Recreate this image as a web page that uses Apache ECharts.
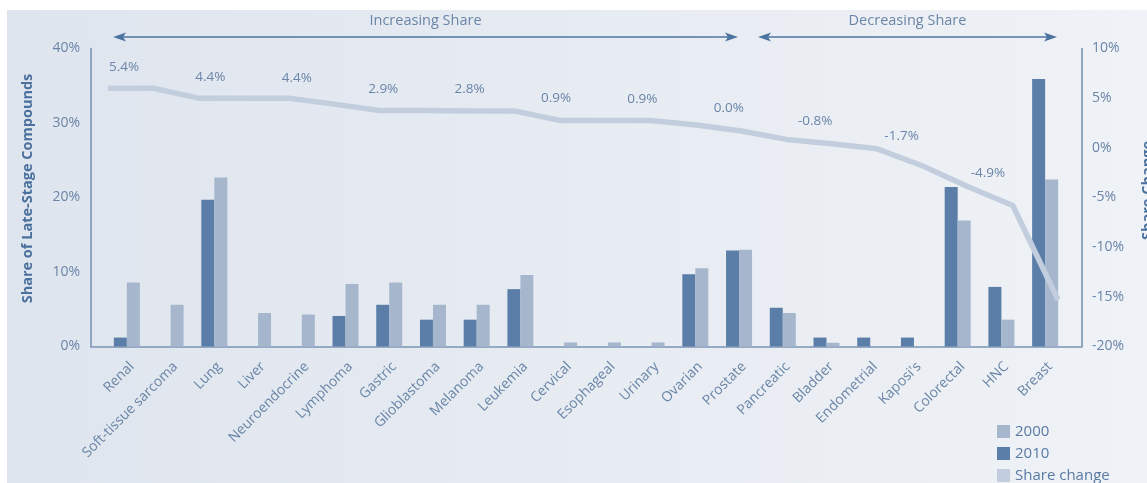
<!DOCTYPE html>
<html><head><meta charset="utf-8">
<script src="https://cdn.jsdelivr.net/npm/echarts@6/dist/echarts.min.js"></script>
<style>
html,body{margin:0;padding:0;background:#fff;}
#wrap{position:relative;width:1147px;height:483px;overflow:hidden;}
#bg{position:absolute;left:7px;top:10px;right:0;bottom:0;background:linear-gradient(90deg,#dfe5ee 0%,#e6ebf2 45%,#eff2f6 100%);}
#c{position:absolute;left:0;top:0;width:1147px;height:483px;}
</style>
</head><body>
<div id="wrap"><div id="bg"></div><div id="c"></div></div>
<script>
// ---- data ----
const categories = ['Renal','Soft-tissue sarcoma','Lung','Liver','Neuroendocrine','Lymphoma','Gastric','Glioblastoma','Melanoma','Leukemia','Cervical','Esophageal','Urinary','Ovarian','Prostate','Pancreatic','Bladder','Endometrial',"Kaposi's",'Colorectal','HNC','Breast'];
const values2010 = [1.2, 0, 19.7, 0, 0, 4.1, 5.6, 3.6, 3.6, 7.7, 0, 0, 0, 9.7, 12.9, 5.2, 1.2, 1.2, 1.2, 21.4, 8.0, 35.9];
const values2000 = [8.6, 5.6, 22.7, 4.5, 4.3, 8.4, 8.6, 5.6, 5.6, 9.6, 0.55, 0.55, 0.55, 10.5, 13.0, 4.5, 0.5, 0, 0, 16.9, 3.6, 22.4];
const shareChange = [6.0, 6.0, 5.0, 5.0, 5.0, 4.4, 3.75, 3.75, 3.72, 3.7, 2.75, 2.75, 2.75, 2.3, 1.7, 0.85, 0.4, -0.1, -1.8, -3.9, -5.8, -15.3];
const changeLabels = ['5.4%', null, '4.4%', null, '4.4%', null, '2.9%', null, '2.8%', null, '0.9%', null, '0.9%', null, '0.0%', null, '-0.8%', null, '-1.7%', null, '-4.9%', null];
const leftTicks = {min: 0, max: 40, interval: 10};
const rightTicks = {min: -20, max: 10, interval: 5};
const legendNames = ['2000', '2010', 'Share change'];
const sectionTitles = ['Increasing Share', 'Decreasing Share'];

// ---- layout / style ----
const W = 1147, H = 483;
const TOP = 48.5, BOTTOM = 346.5;
const barLeft = 105, barRight = 1067;
const lineLeft = 108, lineRight = 1058;
const frameLeft = 91, frameRight = 1082;
const FONT = '"Open Sans", sans-serif';
const TXT = '#6a85a7', AXIS = '#7b94b4', DARK = '#5b7ea9', LIGHT = '#a6b6cd', LINE = '#c2cedd', NAME = '#4a709d', ARROW = '#4d74a0';

const lineStep = (lineRight - lineLeft) / (shareChange.length - 1);
const labelStart = 124, labelStep = 43.2;
const pxPerUnit = (BOTTOM - TOP) / (rightTicks.max - rightTicks.min);
const lineData = shareChange.map((v, i) => {
  const txt = changeLabels[i];
  if (!txt) return v;
  const dx = (labelStart + i * labelStep) - (lineLeft + i * lineStep);
  let lv = v;
  if (dx < 0 && i > 0) lv = v + (shareChange[i - 1] - v) * (-dx / lineStep);
  else if (dx > 0 && i < shareChange.length - 1) lv = v + (shareChange[i + 1] - v) * (dx / lineStep);
  const dy = -(lv - v) * pxPerUnit;
  return {value: v, label: {show: true, formatter: txt, offset: [dx, dy]}};
});

function arrow(x1, x2, y) {
  return [
    {type: 'line', shape: {x1: x1 + 4, y1: y, x2: x2 - 4, y2: y}, style: {stroke: ARROW, lineWidth: 1.6}},
    {type: 'polygon', shape: {points: [[x1, y], [x1 + 13, y - 4.5], [x1 + 10, y], [x1 + 13, y + 4.5]]}, style: {fill: ARROW}},
    {type: 'polygon', shape: {points: [[x2, y], [x2 - 13, y - 4.5], [x2 - 10, y], [x2 - 13, y + 4.5]]}, style: {fill: ARROW}}
  ];
}
function title(txt, cx) {
  return {type: 'text', x: cx, y: 21, style: {text: txt, fontSize: 14.5, fontFamily: FONT, fill: TXT, align: 'center', verticalAlign: 'middle'}};
}

const chart = echarts.init(document.getElementById('c'), null, {renderer: 'canvas'});
const axisLineStyle = {color: AXIS, width: 1.6};
chart.setOption({
  animation: false,
  textStyle: {fontFamily: FONT},
  grid: [
    {left: barLeft, right: W - barRight, top: TOP, bottom: H - BOTTOM, containLabel: false, outerBoundsMode: 'none'},
    {left: lineLeft, right: W - lineRight, top: TOP, bottom: H - BOTTOM, containLabel: false, outerBoundsMode: 'none'},
    {left: frameLeft, right: W - frameRight, top: TOP, bottom: H - BOTTOM, containLabel: false, outerBoundsMode: 'none'}
  ],
  xAxis: [
    {type: 'category', gridIndex: 0, data: categories, axisLine: {show: false}, axisTick: {show: false},
     axisLabel: {rotate: 45, interval: 0, color: TXT, fontSize: 14, fontFamily: FONT, margin: 13, verticalAlign: 'top'}},
    {type: 'category', gridIndex: 1, data: categories, boundaryGap: false, show: false},
    {type: 'value', gridIndex: 2, min: 0, max: 1, axisLine: {show: true, lineStyle: axisLineStyle},
     axisTick: {show: false}, axisLabel: {show: false}, splitLine: {show: false}}
  ],
  yAxis: [
    {type: 'value', gridIndex: 0, position: 'left', offset: barLeft - frameLeft,
     min: leftTicks.min, max: leftTicks.max, interval: leftTicks.interval,
     axisLine: {show: true, lineStyle: axisLineStyle}, axisTick: {show: false}, splitLine: {show: false},
     axisLabel: {formatter: '{value}%', color: TXT, fontSize: 14, fontFamily: FONT, margin: 11},
     name: 'Share of Late-Stage Compounds', nameLocation: 'middle', nameGap: 56,
     nameTextStyle: {color: NAME, fontWeight: 'bold', fontSize: 14.5, fontFamily: FONT, padding: [0, 0, 0, 18]}},
    {type: 'value', gridIndex: 0, position: 'right', offset: frameRight - barRight,
     min: rightTicks.min, max: rightTicks.max, interval: rightTicks.interval,
     axisLine: {show: true, lineStyle: axisLineStyle}, axisTick: {show: false}, splitLine: {show: false},
     axisLabel: {formatter: '{value}%', color: TXT, fontSize: 14, fontFamily: FONT, margin: 10},
     name: 'Share Change', nameLocation: 'middle', nameGap: 58, nameMoveOverlap: false,
     nameTextStyle: {color: NAME, fontWeight: 'bold', fontSize: 14.5, fontFamily: FONT, padding: [0, 0, 0, 14]}},
    {type: 'value', gridIndex: 1, min: rightTicks.min, max: rightTicks.max, show: false},
    {type: 'value', gridIndex: 2, min: 0, max: 1, show: false}
  ],
  legend: {
    data: legendNames, orient: 'vertical', left: 997, top: 424, padding: 0, icon: 'rect',
    itemWidth: 13, itemHeight: 13, itemGap: 7,
    textStyle: {color: '#5a7aa3', fontSize: 15, lineHeight: 14, fontFamily: FONT}
  },
  series: [
    {name: '2010', type: 'bar', xAxisIndex: 0, yAxisIndex: 0, data: values2010, barWidth: 13, barGap: '0%', itemStyle: {color: DARK}, z: 2},
    {name: '2000', type: 'bar', xAxisIndex: 0, yAxisIndex: 0, data: values2000, barWidth: 13, barGap: '0%', itemStyle: {color: LIGHT}, z: 2},
    {name: 'Share change', type: 'line', xAxisIndex: 1, yAxisIndex: 2, data: lineData, z: 5,
     symbol: 'circle', symbolSize: 1, showSymbol: true, itemStyle: {color: LINE},
     lineStyle: {color: LINE, width: 5.5, join: 'round'},
     label: {position: 'top', distance: 14, color: TXT, fontSize: 13.5, fontFamily: FONT}}
  ],
  graphic: [].concat(
    arrow(113, 738, 37),
    arrow(758, 1057, 37),
    [title(sectionTitles[0], (113 + 738) / 2), title(sectionTitles[1], (758 + 1057) / 2)]
  )
});
</script>
</body></html>
